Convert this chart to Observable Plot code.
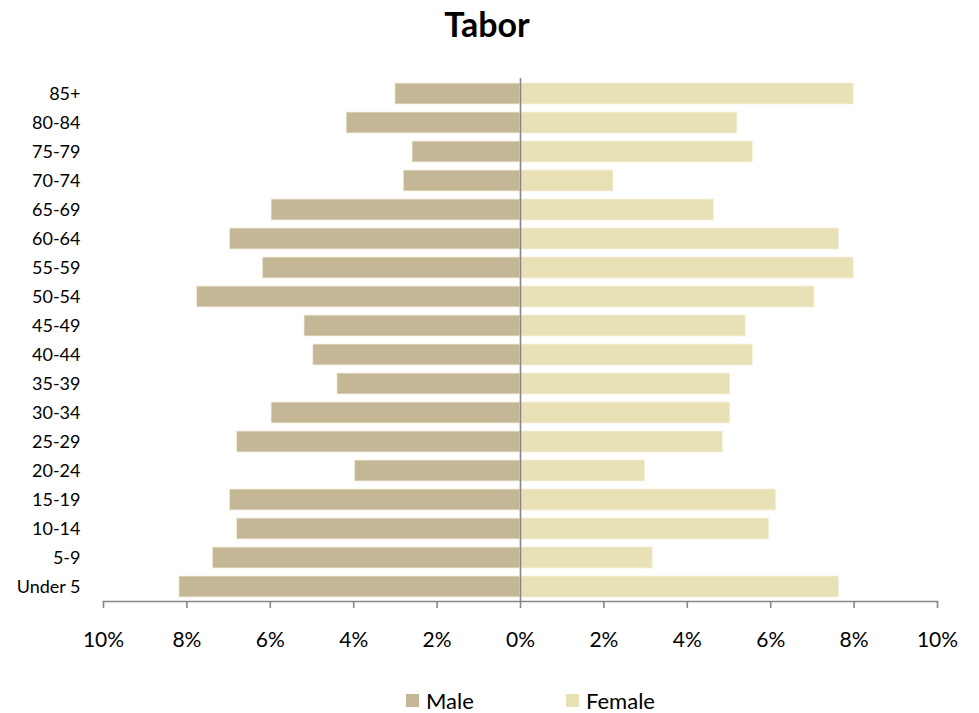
<!DOCTYPE html>
<html>
<head>
<meta charset="utf-8">
<script src="https://cdn.jsdelivr.net/npm/d3@7"></script>
<script src="https://cdn.jsdelivr.net/npm/@observablehq/plot@0.6"></script>
<style>
  body { margin: 0; background: #fff; font-family: Lato, "Open Sans", sans-serif; }
  #title { height: 55px; line-height: 48px; text-align: center; font-weight: bold; font-size: 34px; color: #000; padding-right: 5px; }
  #legend { height: 50px; display: flex; justify-content: flex-start; align-items: center; font-size: 22px; color: #000; padding-left: 406px; }
  .item { display: flex; align-items: center; width: 160px; }
  .sw { width: 13px; height: 13px; margin-right: 7px; }
</style>
</head>
<body>
<div id="title">Tabor</div>
<div id="chart"></div>
<div id="legend"></div>
<script>
const ageGroups = ["85+", "80-84", "75-79", "70-74", "65-69", "60-64", "55-59", "50-54", "45-49", "40-44", "35-39", "30-34", "25-29", "20-24", "15-19", "10-14", "5-9", "Under 5"];
const malePct = [3.0, 4.17, 2.59, 2.80, 5.97, 6.97, 6.18, 7.76, 5.18, 4.97, 4.39, 5.97, 6.80, 3.97, 6.97, 6.80, 7.38, 8.18];
const femalePct = [7.99, 5.20, 5.57, 2.23, 4.64, 7.64, 7.99, 7.05, 5.40, 5.57, 5.03, 5.03, 4.85, 2.99, 6.13, 5.96, 3.17, 7.64];
const xTicks = [-10, -8, -6, -4, -2, 0, 2, 4, 6, 8, 10];
const seriesNames = ["Male", "Female"];
const seriesColors = ["#C4B796", "#E8E1B6"];

const rows = [];
ageGroups.forEach((g, i) => {
  rows.push({age: g, sex: "Male", value: -malePct[i]});
  rows.push({age: g, sex: "Female", value: femalePct[i]});
});

const chart = Plot.plot({
  width: 979,
  height: 620,
  marginTop: 23,
  marginBottom: 74,
  marginLeft: 103,
  marginRight: 42,
  style: {fontFamily: "Lato, 'Open Sans', sans-serif", color: "#000", background: "#fff"},
  x: {domain: [-10, 10], ticks: xTicks, tickFormat: d => Math.abs(d) + "%"},
  y: {domain: ageGroups, paddingInner: 0.29, paddingOuter: 0.13},
  color: {domain: seriesNames, range: seriesColors},
  marks: [
    Plot.barX(rows, {x: "value", y: "age", fill: "sex", stroke: "#f4f0de", strokeWidth: 0.8}),
    Plot.ruleX([0], {stroke: "#868686", strokeWidth: 1.6}),
    Plot.frame({anchor: "bottom", stroke: "#868686", strokeWidth: 1.6}),
    Plot.axisX({ticks: xTicks, tickFormat: d => Math.abs(d) + "%", tickSize: 7, tickPadding: 24, stroke: "#868686", strokeWidth: 1.6, fontSize: 21, label: null}),
    Plot.axisY({tickSize: 0, tickPadding: 23, fontSize: 18, label: null})
  ]
});
document.getElementById("chart").appendChild(chart);

const legend = document.getElementById("legend");
seriesNames.forEach((n, i) => {
  const it = document.createElement("div");
  it.className = "item";
  it.innerHTML = `<div class="sw" style="background:${seriesColors[i]}"></div><span>${n}</span>`;
  legend.appendChild(it);
});
</script>
</body>
</html>
